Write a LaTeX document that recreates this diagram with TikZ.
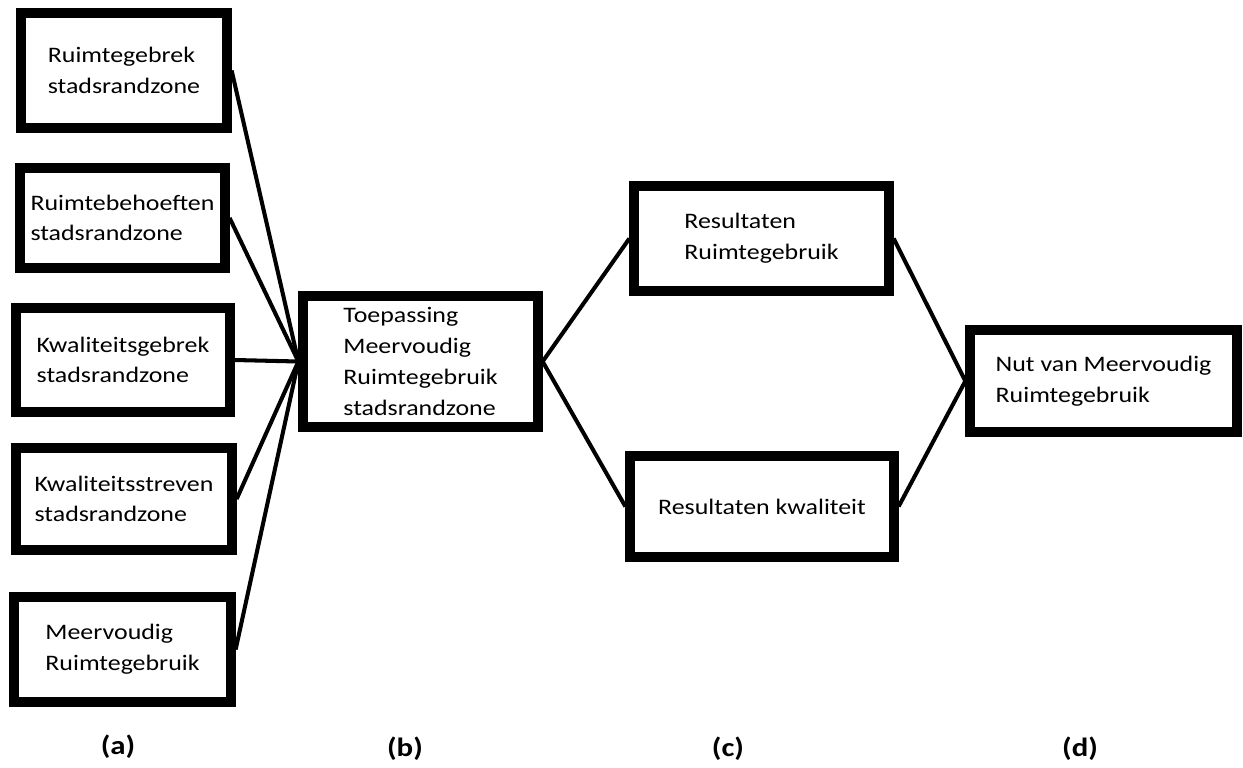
\documentclass[tikz,border=0pt]{standalone}
\usepackage{fontspec}
\setmainfont[FakeStretch=1.17]{Carlito}
\tikzset{
  box/.style={draw, line width=5.3pt, align=left, inner sep=0pt,
    font=\fontsize{12.6}{17.5}\selectfont},
  conn/.style={line width=2.3pt},
  tag/.style={font=\fontsize{15}{18}\selectfont\bfseries}
}
\begin{document}
\begin{tikzpicture}[x=0.02cm,y=-0.02cm]
\useasboundingbox (0,0) rectangle (1243,767);

% Input boxes (a)
\node[box, minimum width=4.12cm, minimum height=2.30cm] (a1) at (124,70.5) {Ruimtegebrek\\stadsrandzone};
\node[box, minimum width=4.10cm, minimum height=2.00cm] (a2) at (122.5,218) {Ruimtebehoeften\\stadsrandzone};
\node[box, minimum width=4.28cm, minimum height=2.08cm] (a3) at (123,360) {Kwaliteitsgebrek\\stadsrandzone};
\node[box, minimum width=4.32cm, minimum height=2.04cm] (a4) at (124,499) {Kwaliteitsstreven\\stadsrandzone};
\node[box, minimum width=4.34cm, minimum height=2.10cm] (a5) at (122.5,649.5) {Meervoudig\\Ruimtegebruik};

% Application (b)
\node[box, minimum width=4.70cm, minimum height=2.62cm] (b) at (420.5,361.5) {Toepassing\\Meervoudig\\Ruimtegebruik\\stadsrandzone};

% Results (c)
\node[box, minimum width=5.10cm, minimum height=2.10cm] (c1) at (761.5,238.5) {Resultaten\\Ruimtegebruik};
\node[box, minimum width=5.28cm, minimum height=2.02cm] (c2) at (762,506.5) {Resultaten kwaliteit};

% Benefit (d)
\node[box, minimum width=5.34cm, minimum height=2.04cm] (d) at (1103.5,381) {Nut van Meervoudig\\Ruimtegebruik};

% Connections
\foreach \n in {a1,a2,a3,a4,a5} {
    \draw[conn] (\n.east) -- (b.west);
}
\draw[conn] (b.east) -- (c1.west);
\draw[conn] (b.east) -- (c2.west);
\draw[conn] (c1.east) -- (d.west);
\draw[conn] (c2.east) -- (d.west);

% Column labels
\node[tag] (lblA) at (118,747) {(a)};
\node[tag] (lblB) at (405,749) {(b)};
\node[tag] (lblC) at (728,749) {(c)};
\node[tag] (lblD) at (1080,749) {(d)};
\end{tikzpicture}
\end{document}
